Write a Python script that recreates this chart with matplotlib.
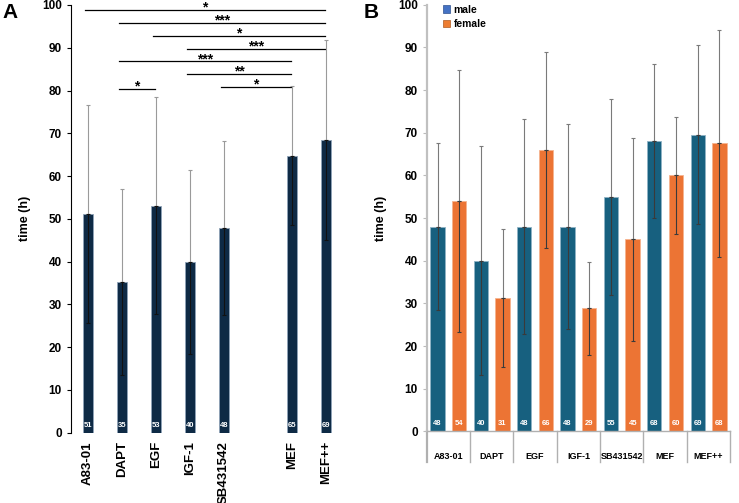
import matplotlib
matplotlib.use("Agg")
import matplotlib.pyplot as plt
from matplotlib.patches import Patch
import numpy as np

plt.rcParams['font.family'] = ['Liberation Sans', 'DejaVu Sans']
plt.rcParams['font.weight'] = 'bold'
plt.rcParams['axes.labelweight'] = 'bold'

# panel A data
a_labels = ['A83-01', 'DAPT', 'EGF', 'IGF-1', 'SB431542', 'MEF', 'MEF++']
a_pos = [0, 1, 2, 3, 4, 6, 7]
a_mean = [51.1, 35.2, 53.1, 39.9, 47.9, 64.8, 68.5]
a_sd = [25.4, 21.8, 25.3, 21.4, 20.4, 16.2, 23.4]
a_n = [51, 35, 53, 40, 48, 65, 69]

# significance brackets: (from index, to index, height, stars)
a_sig = [(0, 6, 98.8, '*'), (1, 6, 95.8, '***'), (2, 6, 92.8, '*'),
         (3, 6, 89.8, '***'), (1, 5, 86.8, '***'), (3, 5, 83.9, '**'),
         (4, 5, 80.8, '*'), (1, 2, 80.3, '*')]

# panel B data
b_labels = ['A83-01', 'DAPT', 'EGF', 'IGF-1', 'SB431542', 'MEF', 'MEF++']
male_mean = [48.0, 40.0, 48.0, 48.0, 54.9, 68.0, 69.5]
male_sd = [19.6, 26.9, 25.3, 24.0, 22.9, 18.0, 21.0]
male_n = [48, 40, 48, 48, 55, 68, 69]
female_mean = [54.0, 31.2, 65.9, 28.8, 45.0, 60.0, 67.5]
female_sd = [30.8, 16.2, 23.0, 10.8, 23.8, 13.8, 26.6]
female_n = [54, 31, 66, 29, 45, 60, 68]

navy = '#0e2a45'
male_c = '#17607f'
female_c = '#ec7434'

fig = plt.figure(figsize=(7.39, 5.03), dpi=100)

# ---------------- panel A ----------------
ax = fig.add_axes([0.0961, 0.1398, 0.368, 0.8503])
ax.bar(a_pos, a_mean, width=0.31, color=navy, edgecolor='#8fa3b8', linewidth=0.6, zorder=2)
ax.errorbar(a_pos, a_mean, yerr=[np.zeros(len(a_sd)), a_sd], fmt='none',
            ecolor='#9a9a9a', elinewidth=0.8, capsize=1.2, capthick=0.8, zorder=3)
ax.errorbar(a_pos, a_mean, yerr=[a_sd, np.zeros(len(a_sd))], fmt='none',
            ecolor='#111111', elinewidth=0.8, capsize=1.2, capthick=0.8, zorder=3)
for p, n in zip(a_pos, a_n):
    ax.text(p, 1.7, str(n), color='white', fontsize=5.5, fontweight='bold',
            ha='center', va='center', zorder=4)
for i, j, y, s in a_sig:
    x0 = a_pos[i] - 0.09
    x1 = a_pos[j] - 0.03
    ax.plot([x0, x1], [y, y], color='black', linewidth=0.9, clip_on=False)
    ax.text((x0 + x1) / 2, y - 0.4, s, fontsize=10, fontweight='bold',
            ha='center', va='baseline', clip_on=False)

ax.set_xlim(-0.5, 7.5)
ax.set_ylim(0, 100)
ax.set_yticks(range(0, 101, 10))
ax.set_yticklabels([str(v) for v in range(0, 101, 10)], fontsize=8.5, fontweight='bold')
ax.tick_params(axis='y', length=3, width=0.8, direction='out')
ax.set_xticks(a_pos)
ax.set_xticklabels(a_labels, rotation=90, fontsize=9.5, fontweight='bold')
ax.tick_params(axis='x', length=0, pad=6)
for side in ['top', 'right', 'bottom']:
    ax.spines[side].set_visible(False)
ax.spines['left'].set_linewidth(0.8)
ax.set_ylabel('time (h)', fontsize=9, fontweight='bold', labelpad=8)
fig.text(0.003, 0.965, 'A', fontsize=15, fontweight='bold', ha='left', va='baseline')

# ---------------- panel B ----------------
bx = fig.add_axes([0.5774, 0.1425, 0.4107, 0.848])
x = np.arange(len(b_labels))
off = 0.25
w = 0.33
bx.bar(x - off, male_mean, width=w, color=male_c, edgecolor='#8fb3c6', linewidth=0.6, zorder=2)
bx.bar(x + off, female_mean, width=w, color=female_c, edgecolor='#f6b48f', linewidth=0.6, zorder=2)
for xs, m, sd in [(x - off, male_mean, male_sd), (x + off, female_mean, female_sd)]:
    bx.errorbar(xs, m, yerr=[np.zeros(len(sd)), sd], fmt='none', ecolor='#7a7a7a',
                elinewidth=0.8, capsize=1.2, capthick=0.8, zorder=3)
    bx.errorbar(xs, m, yerr=[sd, np.zeros(len(sd))], fmt='none', ecolor='#3a3a3a',
                elinewidth=0.8, capsize=1.2, capthick=0.8, zorder=3)
for xi, n in zip(x - off, male_n):
    bx.text(xi, 1.9, str(n), color='white', fontsize=5.5, fontweight='bold',
            ha='center', va='center', zorder=4)
for xi, n in zip(x + off, female_n):
    bx.text(xi, 1.9, str(n), color='white', fontsize=5.5, fontweight='bold',
            ha='center', va='center', zorder=4)

bx.set_xlim(-0.5, len(b_labels) - 0.5)
bx.set_ylim(0, 100)
bx.set_yticks(range(0, 101, 10))
bx.set_yticklabels([str(v) for v in range(0, 101, 10)], fontsize=8.5, fontweight='bold')
bx.tick_params(axis='y', length=3, width=0.8, color='#bbbbbb', direction='out')
bx.set_xticks([])
for side in ['top', 'right']:
    bx.spines[side].set_visible(False)
bx.spines['left'].set_color('#c0c0c0')
bx.spines['left'].set_linewidth(1.6)
bx.spines['bottom'].set_color('#b0b0b0')
bx.spines['bottom'].set_linewidth(1.0)
trans = bx.get_xaxis_transform()
for b in np.arange(len(b_labels) + 1) - 0.5:
    bx.plot([b, b], [0, -0.073], color='#b0b0b0', linewidth=1.0 if b > -0.5 else 1.6,
            transform=trans, clip_on=False)
for xi, lab in zip(x, b_labels):
    bx.text(xi, -0.058, lab, fontsize=6.5, fontweight='bold', ha='center', va='center',
            transform=trans)
bx.set_ylabel('time (h)', fontsize=9, fontweight='bold', labelpad=8)
handles = [Patch(facecolor='#4472c4', edgecolor='#2f528f', linewidth=0.5, label='male'),
           Patch(facecolor='#ed7d31', edgecolor='#ae5a21', linewidth=0.5, label='female')]
bx.legend(handles=handles, loc='upper left', bbox_to_anchor=(0.054, 1.0), frameon=False,
          prop={'size': 7.5, 'weight': 'bold'}, handlelength=0.7, handleheight=0.7,
          handletextpad=0.3, labelspacing=0.45, borderaxespad=0, borderpad=0)
fig.text(0.492, 0.965, 'B', fontsize=15, fontweight='bold', ha='left', va='baseline')

fig.savefig('out.png', dpi=100)
